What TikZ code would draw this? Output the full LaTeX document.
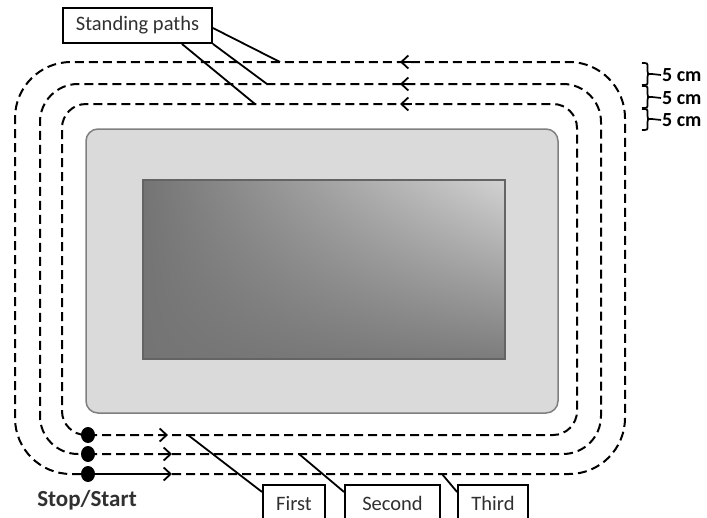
\documentclass[tikz,border=0pt]{standalone}
\usepackage{fontspec}
\setmainfont{Carlito}
\usetikzlibrary{arrows.meta,calc,shadings}
\definecolor{txtgray}{HTML}{303030}
\definecolor{framefill}{HTML}{DADADA}
\definecolor{frameedge}{HTML}{7F7F7F}
\definecolor{scrdark}{HTML}{747474}
\definecolor{scrlight}{HTML}{D2D2D2}
\definecolor{scrmid}{HTML}{7C7C7C}
\definecolor{scredge}{HTML}{646464}
\tikzset{
  looppath/.style={line width=2pt, dash pattern=on 9pt off 5pt},
  conn/.style={line width=1.8pt},
  labelbox/.style={draw, line width=1.8pt, font=\fontsize{20.5}{22}\selectfont, text=txtgray, inner sep=0pt},
  tipmark/.style={line width=1.8pt, -{Straight Barb[length=7pt,width=13pt,line width=1.8pt]}},
  dotnode/.style={ellipse, fill=black, minimum width=14pt, minimum height=16pt, inner sep=0pt},
  bracelabel/.style={font=\bfseries\fontsize{20}{22}\selectfont, anchor=west, inner sep=0pt},
  bracepath/.style={line width=1.7pt}
}
\usetikzlibrary{shapes.geometric}
\begin{document}
\begin{tikzpicture}[x=1pt,y=-1pt]
\useasboundingbox (0,0) rectangle (707,517);
\clip (0,0) rectangle (707,517);
% device
\draw[fill=framefill, draw=frameedge, line width=1.5pt, rounded corners=12pt] (86,129) rectangle (558,413);
\shade[upper left=scrdark, upper right=scrlight, lower left=scrdark, lower right=scrmid]
  (143,180) rectangle (505,359);
\draw[draw=scredge, line width=1.5pt] (143,180) rectangle (505,359);
% start dots
\node[dotnode] (d1) at (88,435) {};
\node[dotnode] (d2) at (88,454) {};
\node[dotnode] (d3) at (88,474) {};
% loops
\draw[looppath, rounded corners=24pt] (d1.center) -- (577,435) -- (577,104) -- (62,104) -- (62,435) -- (d1.center);
\draw[looppath, rounded corners=38pt] (d2.center) -- (601,454) -- (601,84) -- (40,84) -- (40,454) -- (d2.center);
\draw[looppath, rounded corners=56pt] (172,474) -- (625,474) -- (625,62) -- (15,62) -- (15,474) -- (d3.center);
\draw[line width=2pt] (d3.center) -- (165,474);
% arrow marks
\draw[tipmark] (158,435) -- (168,435);
\draw[tipmark] (160,454) -- (172,454);
\draw[tipmark] (160,474) -- (172,474);
\draw[tipmark] (412,62) -- (400,62);
\draw[tipmark] (412,84) -- (400,84);
\draw[tipmark] (412,104) -- (400,104);
% points on lines
\coordinate (t3) at (280,62);
\coordinate (t2) at (267,84);
\coordinate (t1) at (255,104);
\coordinate (b1) at (188,435);
\coordinate (b2) at (299,454);
\coordinate (b3) at (442,474);
% standing paths
\node[labelbox, minimum width=149pt, minimum height=35pt] (sp) at (137.5,25.5) {Standing paths};
\draw[conn] ([yshift=-2.5pt]sp.east) -- (t3);
\draw[conn] (sp.south east) -- (t2);
\draw[conn] ([xshift=-31pt]sp.south east) -- (t1);
% bottom boxes
\node[labelbox, anchor=north, minimum width=62pt, minimum height=38pt] (first) at (294,484) {First};
\node[labelbox, anchor=north, minimum width=95pt, minimum height=38pt] (second) at (392.5,484) {Second};
\node[labelbox, anchor=north, minimum width=70pt, minimum height=38pt] (third) at (493,484) {Third};
\draw[conn] (b1) -- ([yshift=-8pt]first.north west);
\draw[conn] (b2) -- ([yshift=-8pt]second.north west);
\draw[conn] (b3) -- ([yshift=-8pt]third.north west);
% stop/start
\node[font=\bfseries\fontsize{23}{25}\selectfont, text=txtgray, inner sep=0pt] (ss) at (87,500) {Stop/Start};
% braces
\node[bracelabel] (c1) at (662,75) {5 cm};
\node[bracelabel] (c2) at (662,98) {5 cm};
\node[bracelabel] (c3) at (662,120) {5 cm};
\coordinate (m1) at (652,74);
\coordinate (m2) at (652,97);
\coordinate (m3) at (652,119);
\draw[bracepath] (642,63) .. controls (647.5,63) .. (647.5,67) -- (647.5,71) .. controls (647.5,74) .. (m1)
  .. controls (647.5,74) .. (647.5,77) -- (647.5,81) .. controls (647.5,85) .. (642,85);
\draw[bracepath] (642,86) .. controls (647.5,86) .. (647.5,90) -- (647.5,94) .. controls (647.5,97) .. (m2)
  .. controls (647.5,97) .. (647.5,100) -- (647.5,104) .. controls (647.5,108) .. (642,108);
\draw[bracepath] (642,109) .. controls (647.5,109) .. (647.5,113) -- (647.5,116) .. controls (647.5,119) .. (m3)
  .. controls (647.5,119) .. (647.5,122) -- (647.5,126) .. controls (647.5,130) .. (642,130);
\draw[bracepath] (m1) -- ([xshift=-1pt]c1.west);
\draw[bracepath] (m2) -- ([xshift=-1pt]c2.west);
\draw[bracepath] (m3) -- ([xshift=-1pt]c3.west);
\end{tikzpicture}
\end{document}
